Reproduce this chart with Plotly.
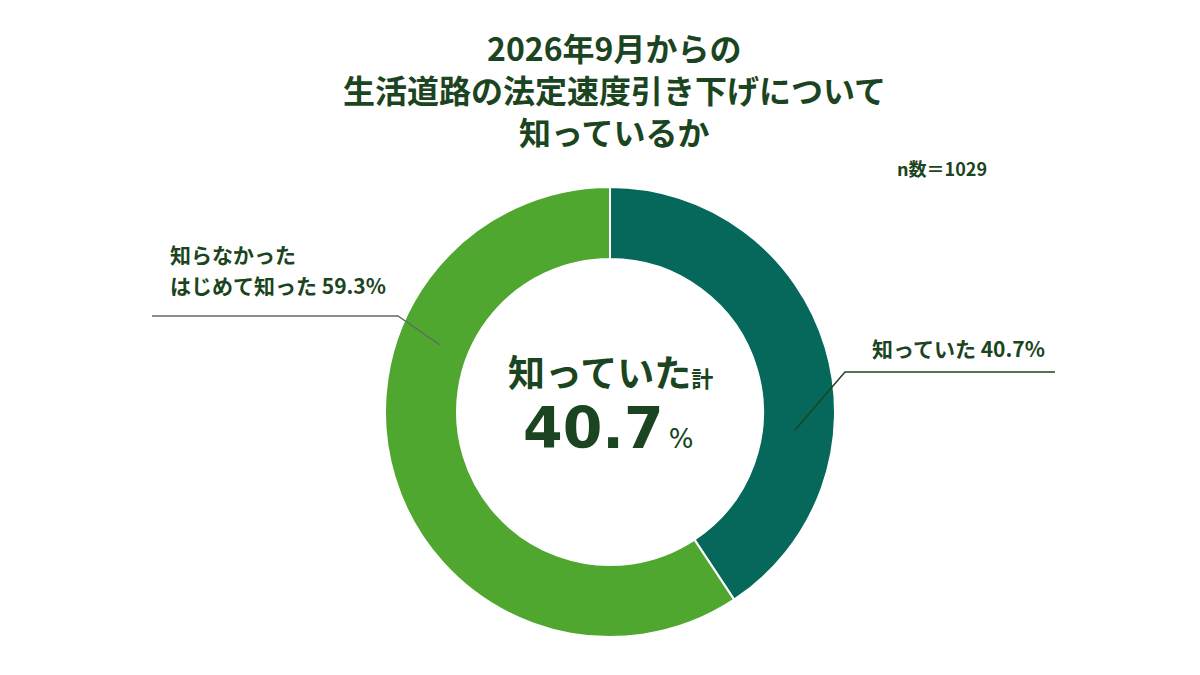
import plotly.graph_objects as go

# data
labels = ["知っていた", "知らなかった<br>はじめて知った"]
values = [40.7, 59.3]
colors = ["#05685A", "#4FA72F"]
title_lines = ["2026年9月からの", "生活道路の法定速度引き下げについて", "知っているか"]
n_text = "n数＝1029"

W, H = 1200, 675
OFF = 8  # page body margin
TEXT = "#1B4420"
FONT = "Noto Sans CJK JP"


def px(x):
    return (x - OFF) / W


def py(y):
    return 1 - (y - OFF) / H


pie = go.Pie(labels=labels, values=values, hole=0.68, sort=False,
             direction="clockwise", rotation=0,
             marker=dict(colors=colors, line=dict(color="white", width=2)),
             textinfo="none", hoverinfo="label+percent", showlegend=False,
             domain=dict(x=[px(385), px(835)], y=[py(637), py(187)]))

fig = go.Figure(data=[pie])

ann = []
# title
for line, yy in zip(title_lines, [47, 89, 131]):
    ann.append(dict(text="<b>" + line + "</b>", x=px(614), y=py(yy),
                    font=dict(size=32, color=TEXT)))
ann.append(dict(text="<b>" + n_text + "</b>", x=px(942), y=py(168),
                font=dict(size=18, color=TEXT)))

# center text
ann.append(dict(text="<b>知っていた<span style='font-size:22px'>計</span></b>",
                x=px(610), y=py(371), font=dict(size=37, color=TEXT)))
ann.append(dict(text="<b>%.1f</b><span style='font-size:26px'>&#8201;%%</span>" % values[0],
                x=px(608), y=py(428), font=dict(size=57, color=TEXT, family="DejaVu Sans")))

# outside labels
ann.append(dict(text="<b>知っていた %.1f%%</b>" % values[0], x=px(1047), y=py(348),
                xanchor="right", font=dict(size=21, color=TEXT)))
ann.append(dict(text="<b>知らなかった</b>", x=px(168), y=py(254), xanchor="left",
                font=dict(size=21, color=TEXT)))
ann.append(dict(text="<b>はじめて知った %.1f%%</b>" % values[1], x=px(168), y=py(285),
                xanchor="left", font=dict(size=21, color=TEXT)))

for a in ann:
    a.update(xref="paper", yref="paper", showarrow=False)
    a.setdefault("xanchor", "center")
    a.setdefault("yanchor", "middle")

# leader lines
shapes = [
    dict(type="path", xref="paper", yref="paper",
         path="M %f,%f L %f,%f L %f,%f" % (px(795), py(430), px(845), py(372), px(1055), py(372)),
         line=dict(color="#1D4421", width=1.5)),
    dict(type="path", xref="paper", yref="paper",
         path="M %f,%f L %f,%f L %f,%f" % (px(440), py(345), px(398), py(316), px(152), py(316)),
         line=dict(color="#5E6E5E", width=1.5)),
]

fig.update_layout(width=W, height=H, margin=dict(l=0, r=0, t=0, b=0),
                  paper_bgcolor="white", plot_bgcolor="white",
                  font=dict(family=FONT, color=TEXT),
                  annotations=ann, shapes=shapes)

fig.write_html("out.html")
